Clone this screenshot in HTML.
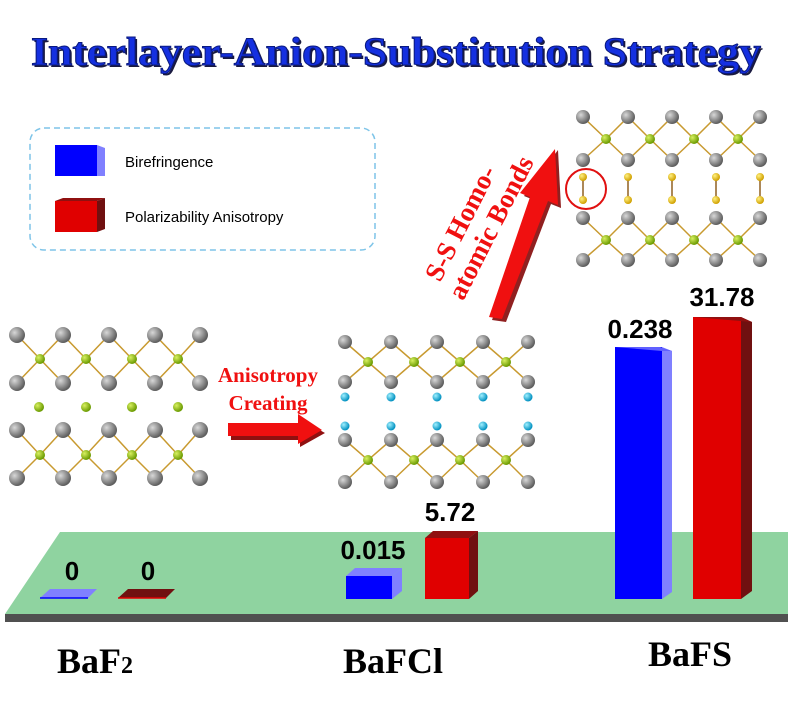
<!DOCTYPE html>
<html><head><meta charset="utf-8"><style>
body{margin:0;background:#fff;width:788px;height:716px;overflow:hidden}
svg{display:block}
</style></head><body>
<svg width="788" height="716" viewBox="0 0 788 716" xmlns="http://www.w3.org/2000/svg">
<defs>
<radialGradient id="g" cx="35%" cy="35%" r="65%"><stop offset="0" stop-color="#d8d8d8"/><stop offset="1" stop-color="#5e5e5e"/></radialGradient>
<radialGradient id="gr" cx="35%" cy="35%" r="65%"><stop offset="0" stop-color="#d8f060"/><stop offset="1" stop-color="#6a9a00"/></radialGradient>
<radialGradient id="cy" cx="35%" cy="35%" r="65%"><stop offset="0" stop-color="#a0f0ff"/><stop offset="1" stop-color="#0090c0"/></radialGradient>
<radialGradient id="ye" cx="35%" cy="35%" r="65%"><stop offset="0" stop-color="#fff080"/><stop offset="1" stop-color="#d0a000"/></radialGradient>
</defs>
<!-- Title -->
<text x="33" y="67" textLength="730" lengthAdjust="spacingAndGlyphs" font-family="Liberation Serif,serif" font-weight="bold" font-size="40" fill="#1a1a40">Interlayer-Anion-Substitution Strategy</text>
<text x="31" y="65" textLength="730" lengthAdjust="spacingAndGlyphs" font-family="Liberation Serif,serif" font-weight="bold" font-size="40" fill="#1530e0" stroke="#0a1a80" stroke-width="1">Interlayer-Anion-Substitution Strategy</text>
<!-- Legend -->
<rect x="30" y="128" width="345" height="122" rx="14" fill="none" stroke="#7ec4e8" stroke-width="1.5" stroke-dasharray="6,4"/>
<rect x="55" y="145" width="42" height="31" fill="#0000ff"/><polygon points="97,145 105,148 105,176 97,176" fill="#8080ff"/>
<text x="125" y="167" font-family="Liberation Sans,sans-serif" font-size="15" fill="#000">Birefringence</text>
<rect x="55" y="201" width="42" height="31" fill="#e00000"/><polygon points="97,201 105,198 105,229 97,232" fill="#701010"/><polygon points="55,201 63,198 105,198 97,201" fill="#901010"/>
<text x="125" y="222" font-family="Liberation Sans,sans-serif" font-size="15" fill="#000">Polarizability Anisotropy</text>
<!-- Platform -->
<polygon points="5,614 788,614 788,622 5,622" fill="#505050"/>
<polygon points="60,532 788,532 788,614 5,614" fill="#8fd3a0"/>
<!-- structures -->
<g stroke="#c89a30" stroke-width="1.5" fill="none">
<path d="M17,335 L40,359 L63,383 L86,359 L109,335 L132,359 L155,383 L178,359 L200,335 M17,383 L40,359 L63,335 L86,359 L109,383 L132,359 L155,335 L178,359 L200,383"/>
<path d="M17,430 L40,455 L63,478 L86,455 L109,430 L132,455 L155,478 L178,455 L200,430 M17,478 L40,455 L63,430 L86,455 L109,478 L132,455 L155,430 L178,455 L200,478"/>
</g>
<g fill="url(#g)">
<circle cx="17" cy="335" r="8"/><circle cx="63" cy="335" r="8"/><circle cx="109" cy="335" r="8"/><circle cx="155" cy="335" r="8"/><circle cx="200" cy="335" r="8"/>
<circle cx="17" cy="383" r="8"/><circle cx="63" cy="383" r="8"/><circle cx="109" cy="383" r="8"/><circle cx="155" cy="383" r="8"/><circle cx="200" cy="383" r="8"/>
<circle cx="17" cy="430" r="8"/><circle cx="63" cy="430" r="8"/><circle cx="109" cy="430" r="8"/><circle cx="155" cy="430" r="8"/><circle cx="200" cy="430" r="8"/>
<circle cx="17" cy="478" r="8"/><circle cx="63" cy="478" r="8"/><circle cx="109" cy="478" r="8"/><circle cx="155" cy="478" r="8"/><circle cx="200" cy="478" r="8"/>
</g>
<g fill="url(#gr)">
<circle cx="40" cy="359" r="5"/><circle cx="86" cy="359" r="5"/><circle cx="132" cy="359" r="5"/><circle cx="178" cy="359" r="5"/>
<circle cx="40" cy="455" r="5"/><circle cx="86" cy="455" r="5"/><circle cx="132" cy="455" r="5"/><circle cx="178" cy="455" r="5"/>
<circle cx="39" cy="407" r="5"/><circle cx="86" cy="407" r="5"/><circle cx="132" cy="407" r="5"/><circle cx="178" cy="407" r="5"/>
</g>
<!-- structure 2 -->
<g transform="translate(328,7)">
<g stroke="#c89a30" stroke-width="1.5" fill="none">
<path d="M17,335 L40,355 L63,375 L86,355 L109,335 L132,355 L155,375 L178,355 L200,335 M17,375 L40,355 L63,335 L86,355 L109,375 L132,355 L155,335 L178,355 L200,375"/>
<path d="M17,433 L40,453 L63,475 L86,453 L109,433 L132,453 L155,475 L178,453 L200,433 M17,475 L40,453 L63,433 L86,453 L109,475 L132,453 L155,433 L178,453 L200,475"/>
</g>
<g fill="url(#g)">
<circle cx="17" cy="335" r="7"/><circle cx="63" cy="335" r="7"/><circle cx="109" cy="335" r="7"/><circle cx="155" cy="335" r="7"/><circle cx="200" cy="335" r="7"/>
<circle cx="17" cy="375" r="7"/><circle cx="63" cy="375" r="7"/><circle cx="109" cy="375" r="7"/><circle cx="155" cy="375" r="7"/><circle cx="200" cy="375" r="7"/>
<circle cx="17" cy="433" r="7"/><circle cx="63" cy="433" r="7"/><circle cx="109" cy="433" r="7"/><circle cx="155" cy="433" r="7"/><circle cx="200" cy="433" r="7"/>
<circle cx="17" cy="475" r="7"/><circle cx="63" cy="475" r="7"/><circle cx="109" cy="475" r="7"/><circle cx="155" cy="475" r="7"/><circle cx="200" cy="475" r="7"/>
</g>
<g fill="url(#gr)">
<circle cx="40" cy="355" r="5"/><circle cx="86" cy="355" r="5"/><circle cx="132" cy="355" r="5"/><circle cx="178" cy="355" r="5"/>
<circle cx="40" cy="453" r="5"/><circle cx="86" cy="453" r="5"/><circle cx="132" cy="453" r="5"/><circle cx="178" cy="453" r="5"/>
</g>
<g fill="url(#cy)">
<circle cx="17" cy="390" r="4.5"/><circle cx="63" cy="390" r="4.5"/><circle cx="109" cy="390" r="4.5"/><circle cx="155" cy="390" r="4.5"/><circle cx="200" cy="390" r="4.5"/>
<circle cx="17" cy="419" r="4.5"/><circle cx="63" cy="419" r="4.5"/><circle cx="109" cy="419" r="4.5"/><circle cx="155" cy="419" r="4.5"/><circle cx="200" cy="419" r="4.5"/>
</g>
</g>
<!-- structure 3 -->
<g stroke="#c89a30" stroke-width="1.5" fill="none">
<path d="M583,117 L606,139 L628,160 L650,139 L672,117 L694,139 L716,160 L738,139 L760,117 M583,160 L606,139 L628,117 L650,139 L672,160 L694,139 L716,117 L738,139 L760,160"/>
<path d="M583,218 L606,240 L628,260 L650,240 L672,218 L694,240 L716,260 L738,240 L760,218 M583,260 L606,240 L628,218 L650,240 L672,260 L694,240 L716,218 L738,240 L760,260"/>
<path d="M583,177 V200 M628,177 V200 M672,177 V200 M716,177 V200 M760,177 V200" stroke="#906020"/>
</g>
<g fill="url(#g)">
<circle cx="583" cy="117" r="7"/><circle cx="628" cy="117" r="7"/><circle cx="672" cy="117" r="7"/><circle cx="716" cy="117" r="7"/><circle cx="760" cy="117" r="7"/>
<circle cx="583" cy="160" r="7"/><circle cx="628" cy="160" r="7"/><circle cx="672" cy="160" r="7"/><circle cx="716" cy="160" r="7"/><circle cx="760" cy="160" r="7"/>
<circle cx="583" cy="218" r="7"/><circle cx="628" cy="218" r="7"/><circle cx="672" cy="218" r="7"/><circle cx="716" cy="218" r="7"/><circle cx="760" cy="218" r="7"/>
<circle cx="583" cy="260" r="7"/><circle cx="628" cy="260" r="7"/><circle cx="672" cy="260" r="7"/><circle cx="716" cy="260" r="7"/><circle cx="760" cy="260" r="7"/>
</g>
<g fill="url(#gr)">
<circle cx="606" cy="139" r="5"/><circle cx="650" cy="139" r="5"/><circle cx="694" cy="139" r="5"/><circle cx="738" cy="139" r="5"/>
<circle cx="606" cy="240" r="5"/><circle cx="650" cy="240" r="5"/><circle cx="694" cy="240" r="5"/><circle cx="738" cy="240" r="5"/>
</g>
<g fill="url(#ye)">
<circle cx="583" cy="177" r="4"/><circle cx="628" cy="177" r="4"/><circle cx="672" cy="177" r="4"/><circle cx="716" cy="177" r="4"/><circle cx="760" cy="177" r="4"/>
<circle cx="583" cy="200" r="4"/><circle cx="628" cy="200" r="4"/><circle cx="672" cy="200" r="4"/><circle cx="716" cy="200" r="4"/><circle cx="760" cy="200" r="4"/>
</g>
<circle cx="586" cy="189" r="20" fill="none" stroke="#e01010" stroke-width="2"/>
<!-- arrow 1 -->
<text x="268" y="382" text-anchor="middle" font-family="Liberation Serif,serif" font-weight="bold" font-size="21" fill="#f01010">Anisotropy</text>
<text x="268" y="410" text-anchor="middle" font-family="Liberation Serif,serif" font-weight="bold" font-size="21" fill="#f01010">Creating</text>
<polygon points="231,427 300,427 300,419 325,433 300,447 300,440 231,440" fill="#901010"/>
<polygon points="228,423 298,423 298,414 322,430 298,444 298,436 228,436" fill="#f01010"/>
<!-- arrow 2 -->
<polygon points="492,320 534,200 524,196 558,150 561,208 551,204 506,322" fill="#902020"/>
<polygon points="489,317 530,197 520,193 555,149 558,205 548,201 502,319" fill="#f01010"/>
<g transform="translate(440,283) rotate(-63)" font-family="Liberation Serif,serif" font-weight="bold" font-size="27" fill="#f01010">
<text x="0" y="0">S-S Homo-</text>
<text x="-6" y="29">atomic Bonds</text>
</g>
<!-- bars BaF2 -->
<polygon points="40,598 88,598 97,589 50,589" fill="#8080ff"/><line x1="40" y1="598" x2="88" y2="598" stroke="#0000ff" stroke-width="1.5"/>
<polygon points="118,598 166,598 175,589 128,589" fill="#701010"/><line x1="118" y1="598" x2="166" y2="598" stroke="#e00000" stroke-width="1.5"/>
<!-- BaFCl -->
<rect x="346" y="576" width="46" height="23" fill="#0000ff"/><polygon points="346,576 355,568 402,568 392,576" fill="#8080ff"/><polygon points="392,576 402,568 402,591 392,599" fill="#8080ff"/>
<rect x="425" y="538" width="44" height="61" fill="#e00000"/><polygon points="425,538 433,531 478,531 469,538" fill="#901010"/><polygon points="469,538 478,531 478,591 469,599" fill="#701010"/>
<!-- BaFS -->
<rect x="615" y="347" width="47" height="252" fill="#0000ff"/><polygon points="662,347 672,351 672,592 662,599" fill="#8080ff"/><polygon points="615,347 660,347 672,351 662,351" fill="#6060ff"/>
<rect x="693" y="317" width="48" height="282" fill="#e00000"/><polygon points="741,317 752,322 752,591 741,599" fill="#701010"/><polygon points="693,317 741,317 752,322" fill="#901010"/>
<g font-family="Liberation Sans,sans-serif" font-weight="bold" font-size="26" fill="#000" text-anchor="middle">
<text x="72" y="580">0</text><text x="148" y="580">0</text>
<text x="373" y="559">0.015</text><text x="450" y="521">5.72</text>
<text x="640" y="338">0.238</text><text x="722" y="306">31.78</text>
</g>
<g font-family="Liberation Serif,serif" font-weight="bold" font-size="36" fill="#000" text-anchor="middle">
<text x="95" y="673">BaF<tspan font-size="24">2</tspan></text>
<text x="393" y="673">BaFCl</text>
<text x="690" y="666">BaFS</text>
</g>
</svg>
</body></html>
